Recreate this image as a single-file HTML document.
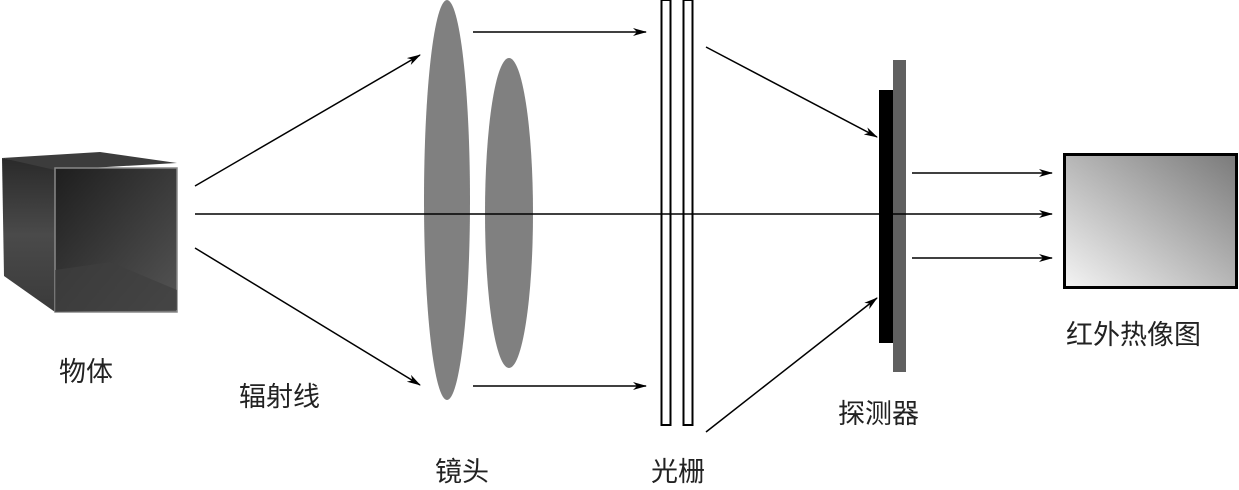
<!DOCTYPE html>
<html><head><meta charset="utf-8"><style>
html,body{margin:0;padding:0;background:#fff;}
svg{display:block;}
text{font-family:"Liberation Sans","Noto Sans CJK SC",sans-serif;font-size:27px;fill:#222;}
</style></head><body>
<svg width="1239" height="490" viewBox="0 0 1239 490" xmlns="http://www.w3.org/2000/svg">
<defs>
<marker id="a" markerWidth="14" markerHeight="8" refX="13" refY="4" orient="auto" markerUnits="userSpaceOnUse">
<path d="M0,0 L14,4 L0,8 L4,4 z" fill="#000"/></marker>
<linearGradient id="g" x1="0" y1="1" x2="1" y2="0">
<stop offset="0" stop-color="#f4f4f4"/><stop offset="1" stop-color="#7a7a7a"/></linearGradient>
<linearGradient id="c1" x1="0" y1="0" x2="0" y2="1">
<stop offset="0" stop-color="#2a2a2a"/><stop offset="0.5" stop-color="#4a4a4a"/><stop offset="1" stop-color="#3a3a3a"/></linearGradient>
<linearGradient id="c2" x1="0" y1="0" x2="1" y2="1">
<stop offset="0" stop-color="#1e1e1e"/><stop offset="1" stop-color="#555"/></linearGradient>
</defs>
<polygon points="2,158 55,168 55,312 4,276" fill="url(#c1)"/>
<polygon points="2,158 100,152 177,163 55,170" fill="#3c3c3c"/>
<rect x="55" y="168" width="122" height="144" fill="url(#c2)" stroke="#888" stroke-width="1.5"/>
<polygon points="55,270 110,262 177,290 177,310 55,312" fill="#3e3e3e" opacity="0.7"/>
<ellipse cx="447" cy="200" rx="23" ry="200" fill="#808080"/>
<ellipse cx="509" cy="213" rx="24" ry="155" fill="#808080"/>
<rect x="661.5" y="0" width="9" height="425" fill="#fff" stroke="#000" stroke-width="2"/>
<rect x="683.5" y="0" width="9" height="425" fill="#fff" stroke="#000" stroke-width="2"/>
<g stroke="#000" stroke-width="1.5" fill="none">
<line x1="195" y1="186" x2="420" y2="55" marker-end="url(#a)"/>
<line x1="195" y1="248" x2="420" y2="385" marker-end="url(#a)"/>
<line x1="473" y1="32" x2="646" y2="32" marker-end="url(#a)"/>
<line x1="473" y1="386" x2="646" y2="386" marker-end="url(#a)"/>
<line x1="706" y1="47" x2="877" y2="137" marker-end="url(#a)"/>
<line x1="706" y1="432" x2="877" y2="298" marker-end="url(#a)"/>
</g>
<rect x="893" y="60" width="13" height="312" fill="#606060"/>
<rect x="879" y="90" width="14" height="253" fill="#000"/>
<g stroke="#000" stroke-width="1.5" fill="none">
<line x1="195" y1="214" x2="1052" y2="214" marker-end="url(#a)"/>
<line x1="912" y1="173" x2="1052" y2="173" marker-end="url(#a)"/>
<line x1="912" y1="258" x2="1052" y2="258" marker-end="url(#a)"/>
</g>
<rect x="1064.5" y="154.5" width="172" height="133" fill="url(#g)" stroke="#000" stroke-width="3"/>
<text x="59" y="381">物体</text>
<text x="239" y="406">辐射线</text>
<text x="435" y="481">镜头</text>
<text x="651" y="481">光栅</text>
<text x="838" y="423">探测器</text>
<text x="1066" y="344">红外热像图</text>
</svg>
</body></html>
